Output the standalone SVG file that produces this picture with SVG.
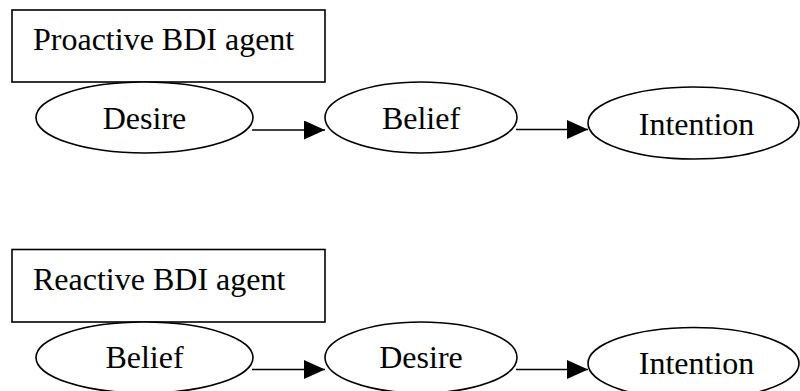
<svg xmlns="http://www.w3.org/2000/svg" width="800" height="391" viewBox="0 0 800 391">
  <style>
    .box { fill: #fff; stroke: #000; stroke-width: 1.6; }
    .node { fill: #fff; stroke: #000; stroke-width: 1.6; }
    .lbl { font-family: "Liberation Serif", "Times New Roman", serif; font-size: 32px; fill: #000; }
    .edge { stroke: #000; stroke-width: 1.6; fill: none; marker-end: url(#arrow); }
  </style>
  <defs>
    <marker id="arrow" markerWidth="21" markerHeight="19" refX="21" refY="9.5" orient="auto" markerUnits="userSpaceOnUse">
      <path d="M0,0 L21,9.5 L0,19 Z" fill="#000"/>
    </marker>
  </defs>
  <rect width="800" height="391" fill="#fff"/>

  <!-- Proactive agent -->
  <g id="proactive-title">
    <rect class="box" x="12" y="10" width="313" height="72"/>
    <text class="lbl" x="33" y="50">Proactive BDI agent</text>
  </g>
  <g id="p-desire">
    <ellipse class="node" cx="144.5" cy="117.5" rx="108.5" ry="35.5"/>
    <text class="lbl" x="144.5" y="129" text-anchor="middle">Desire</text>
  </g>
  <g id="p-belief">
    <ellipse class="node" cx="421" cy="117.5" rx="96" ry="35.5"/>
    <text class="lbl" x="421" y="129" text-anchor="middle">Belief</text>
  </g>
  <g id="p-intention">
    <ellipse class="node" cx="693.5" cy="123" rx="105.5" ry="36"/>
    <text class="lbl" x="696.5" y="135" text-anchor="middle">Intention</text>
  </g>

  <!-- Reactive agent -->
  <g id="reactive-title">
    <rect class="box" x="12" y="249.5" width="313" height="72.5"/>
    <text class="lbl" x="33" y="290">Reactive BDI agent</text>
  </g>
  <g id="r-belief">
    <ellipse class="node" cx="144.5" cy="357.5" rx="108.5" ry="35.5"/>
    <text class="lbl" x="144.5" y="368" text-anchor="middle">Belief</text>
  </g>
  <g id="r-desire">
    <ellipse class="node" cx="421" cy="357.5" rx="96" ry="35.5"/>
    <text class="lbl" x="421" y="368" text-anchor="middle">Desire</text>
  </g>
  <g id="r-intention">
    <ellipse class="node" cx="693.5" cy="363.5" rx="105.5" ry="36"/>
    <text class="lbl" x="696.5" y="374" text-anchor="middle">Intention</text>
  </g>

  <!-- connectors -->
  <g id="connectors">
    <line class="edge" x1="252" y1="130" x2="325" y2="130"/>
    <line class="edge" x1="516" y1="129.5" x2="588" y2="129.5"/>
    <line class="edge" x1="252" y1="369.5" x2="325" y2="369.5"/>
    <line class="edge" x1="516" y1="369.5" x2="588" y2="369.5"/>
  </g>
</svg>
